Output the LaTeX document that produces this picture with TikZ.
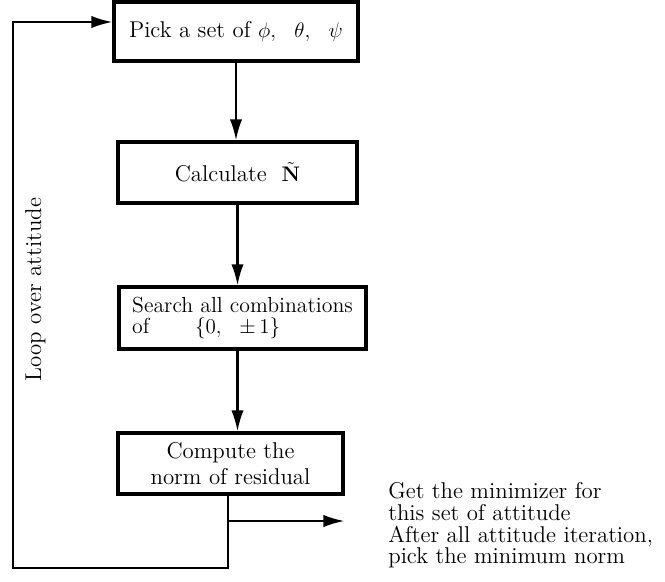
\documentclass[tikz,border=0pt]{standalone}
\usepackage{amsmath}
\usetikzlibrary{arrows.meta,positioning}

\begin{document}
\begin{tikzpicture}[x=0.02cm, y=-0.02cm,
        box/.style={draw, line width=1.8pt, inner sep=2pt, font=\fontsize{13}{12.6}\selectfont},
        line/.style={line width=1.3pt, >={Latex[length=12pt,width=7pt]}}]
        \useasboundingbox (0,0) rectangle (665,581);

        \node[box, minimum width=4.88cm, minimum height=1.18cm] (pick) at (236,31.5) {Pick a set of $\phi,\ \ \theta,\ \ \psi$};
        \node[box, minimum width=4.78cm, minimum height=1.22cm] (calc) at (237.5,172.5) {Calculate\ \ $\tilde{\mathbf{N}}$};
        \node[box, minimum width=4.94cm, minimum height=1.24cm, align=left, font=\fontsize{12.4}{12}\selectfont] (search) at (242.5,318) {Search all combinations\\of\hspace{26pt}$\{0,\ \ \pm\,1\}$};
        \node[box, minimum width=4.5cm, minimum height=1.22cm, align=center, font=\fontsize{13}{14.8}\selectfont] (norm) at (230.5,463.5) {Compute the\\norm of residual};
        \node[anchor=north west, inner sep=0pt, align=left, font=\fontsize{13}{12.4}\selectfont] (result) at (388,482) {Get the minimizer for\\this set of attitude\\After all attitude iteration,\\pick the minimum norm};

        \coordinate (split) at (228,521);
        \coordinate (LB) at (13,568);
        \coordinate (LT) at (13,22);

        \draw[->, line] (pick.south) -- (pick.south |- calc.north);
        \draw[->, line] (calc.south) -- (calc.south |- search.north);
        \draw[->, line] (calc.south |- search.south) -- (calc.south |- norm.north);
        \draw[->, line] (split) -- (split -| norm.east);
        \draw[->, line] (norm.south -| split) -- (LB -| split) -- (LB)
            -- node[pos=0.51, sloped, below=3pt, font=\fontsize{13}{12.4}\selectfont] {Loop over attitude} (LT) -- (LT -| pick.west);
\end{tikzpicture}
\end{document}
